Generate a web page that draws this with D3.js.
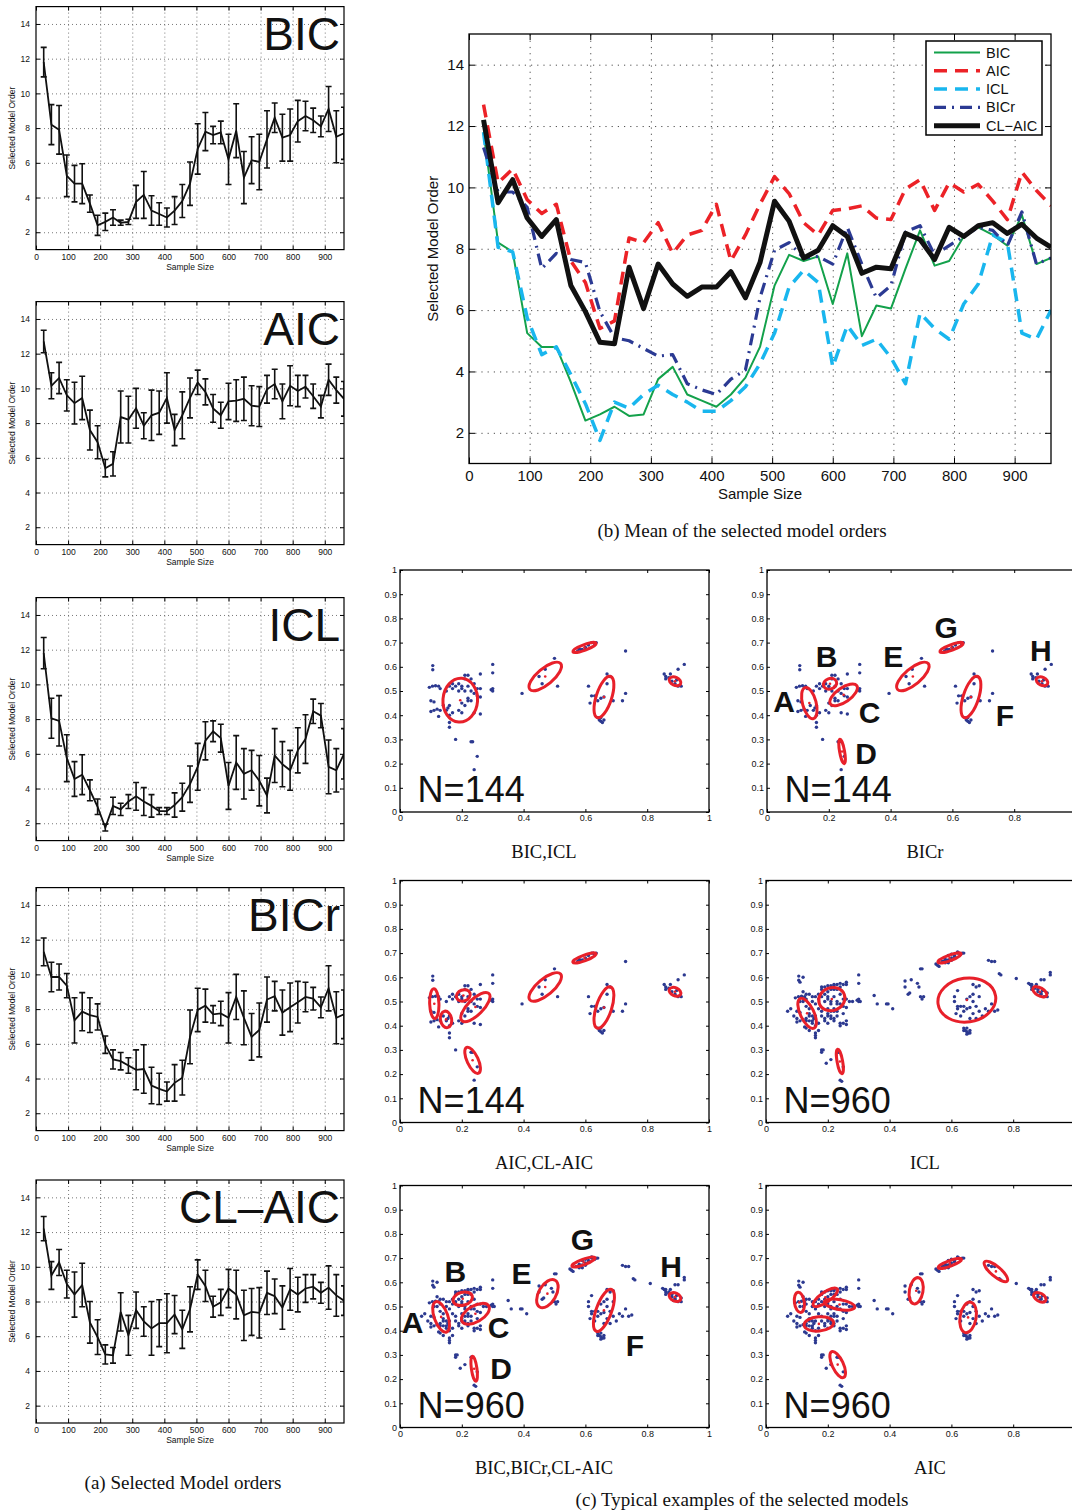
<!DOCTYPE html>
<html>
<head>
<meta charset="utf-8">
<script src="https://cdn.jsdelivr.net/npm/d3@7"></script>
<style>
  body { margin: 0; background: #fff; overflow: hidden; }
  svg text { font-family: "Liberation Sans", Arial, Helvetica, sans-serif; fill: #111; }
  .cap { font-family: "Liberation Serif", "Times New Roman", serif; }
  .grid line { stroke: #555; stroke-dasharray: 1,3; stroke-width: 0.8; }
  .grid path { display: none; }
  .ax path { display: none; }
  .ax line { stroke: #000; }
</style>
</head>
<body>
<svg id="fig" width="1072" height="1512"></svg>
<script>
// ---- data ----
var sampleSizes = [24,48,72,96,120,144,168,192,216,240,264,288,312,336,360,384,408,432,456,480,
                   504,528,552,576,600,624,648,672,696,720,744,768,792,816,840,864,888,912,936,960];

var bicMean = [11.8,8.2,7.9,5.25,4.8,4.8,3.65,2.4,2.6,2.85,2.55,2.6,3.75,4.15,3.25,3.05,2.85,3.25,3.8,4.8,
               6.8,7.8,7.6,7.75,6.2,7.85,5.15,6.15,6.05,7.35,8.6,7.45,7.6,8.4,8.7,8.45,8.1,9.1,7.5,7.7];
var bicErr  = [0.85,1.15,1.4,1.2,1.05,1.15,0.5,0.58,0.5,0.45,0.15,0.15,0.95,1.35,0.85,0.65,0.55,0.8,0.95,1.25,
               1.45,1.1,0.5,0.65,1.45,1.55,1.5,1.35,1.6,1.65,0.85,1.35,1.5,1.2,0.85,0.7,0.6,1.3,1.5,1.5];

var aicMean = [12.7,10.15,10.6,9.6,9.15,9.45,7.6,6.9,5.4,5.65,8.35,8.2,8.85,7.85,8.45,8.6,9.45,7.6,8.45,9.45,
               10.35,9.8,8.85,8.45,9.25,9.3,9.4,9.0,8.95,9.95,10.25,9.25,10.15,9.85,10.1,9.55,8.95,10.5,9.9,9.4];
var aicErr  = [0.65,0.75,0.9,0.9,1.2,1.25,1.15,0.95,0.5,0.7,1.5,1.35,1.15,0.75,1.45,1.25,1.45,0.9,1.35,1.15,
               0.7,0.75,0.8,0.75,1.05,1.2,1.25,1.15,1.15,0.8,0.85,1.0,1.15,0.9,0.65,0.7,0.65,0.9,0.75,1.0];

var iclMean = [11.8,8.05,7.9,5.75,4.55,4.8,3.9,2.95,1.75,3.0,2.8,3.25,3.55,3.25,3.0,2.7,2.7,3.05,3.5,4.25,
               5.25,6.75,7.3,6.9,4.15,5.5,4.85,5.05,4.45,3.6,5.9,5.4,5.05,6.2,6.85,8.45,8.2,5.25,5.05,6.0];
var iclErr  = [0.9,1.15,1.45,1.35,1.0,1.15,0.6,0.45,0.2,0.5,0.35,0.4,0.8,0.8,0.65,0.2,0.2,0.7,0.8,1.05,
               1.35,1.1,0.6,0.8,1.35,1.55,1.45,1.15,1.45,1.0,1.55,1.3,1.15,1.3,1.4,0.7,0.7,1.55,1.25,1.45];

var bicrMean = [11.3,9.85,9.85,9.35,7.35,7.85,7.65,7.55,5.95,5.1,5.0,4.75,4.5,4.55,3.6,3.4,3.25,3.75,4.05,6.4,
                7.95,8.2,7.7,7.75,7.5,8.7,7.5,6.4,6.8,8.55,8.75,7.8,8.1,8.4,8.7,8.6,8.1,9.2,7.5,7.7];
var bicrErr  = [0.8,0.85,0.75,0.7,1.3,1.1,1.0,0.75,0.5,0.55,0.5,0.45,1.15,1.4,1.05,0.9,0.55,1.05,1.0,1.55,
                1.25,0.95,0.5,0.7,1.45,1.3,1.55,1.35,1.55,1.3,0.85,1.3,1.4,1.2,0.85,0.65,0.6,1.3,1.5,1.4];

var claicMean = [12.2,9.5,10.25,9.0,8.4,8.95,6.8,5.95,4.95,4.9,7.4,6.05,7.5,6.85,6.45,6.75,6.75,7.25,6.4,7.55,
                 9.55,8.9,7.7,7.95,8.75,8.4,7.2,7.4,7.35,8.5,8.3,7.65,8.7,8.4,8.75,8.85,8.5,8.8,8.35,8.05];
var claicErr  = [0.7,0.8,0.75,0.8,1.3,1.25,1.2,1.0,0.55,0.45,1.1,1.15,1.05,0.85,1.55,1.35,1.7,1.1,1.1,1.3,
                 0.85,0.9,0.6,0.75,1.1,1.4,1.45,1.35,1.45,1.25,1.0,1.25,1.2,1.0,0.8,0.7,0.6,1.25,1.2,0.85];

var sizeTicks = [0,100,200,300,400,500,600,700,800,900];
var orderTicks = [2,4,6,8,10,12,14];
var probTicksX = [0,0.2,0.4,0.6,0.8,1];
var probTicksY = [0,0.1,0.2,0.3,0.4,0.5,0.6,0.7,0.8,0.9,1];

// samples used with N=144
var pointsN144 = [
  [0.106,0.605],[0.106,0.588],[0.095,0.515],[0.105,0.52],[0.115,0.522],[0.125,0.52],[0.13,0.51],[0.1,0.46],
  [0.11,0.455],[0.1,0.415],[0.11,0.42],[0.12,0.425],[0.125,0.395],[0.13,0.42],[0.14,0.44],[0.15,0.42],
  [0.16,0.44],[0.155,0.43],[0.16,0.4],[0.17,0.41],[0.16,0.37],[0.16,0.35],[0.18,0.3],[0.15,0.5],
  [0.16,0.52],[0.17,0.51],[0.18,0.52],[0.19,0.53],[0.2,0.51],[0.21,0.55],[0.21,0.565],[0.22,0.565],
  [0.2,0.52],[0.21,0.5],[0.22,0.52],[0.23,0.5],[0.23,0.55],[0.24,0.53],[0.25,0.51],[0.26,0.51],
  [0.24,0.49],[0.22,0.47],[0.2,0.45],[0.21,0.44],[0.22,0.46],[0.23,0.46],[0.25,0.48],[0.26,0.475],
  [0.19,0.42],[0.2,0.41],[0.24,0.41],[0.26,0.405],[0.26,0.57],[0.235,0.29],[0.23,0.29],[0.25,0.23],
  [0.24,0.175],[0.3,0.61],[0.3,0.575],[0.3,0.51],[0.3,0.5],[0.295,0.505],[0.17,0.53],[0.19,0.5],
  [0.395,0.49],[0.5,0.635],[0.51,0.52],[0.46,0.53],[0.47,0.59],[0.45,0.56],
  [0.575,0.665],[0.58,0.675],[0.59,0.672],[0.6,0.68],[0.61,0.69],[0.62,0.7],[0.625,0.7],[0.63,0.695],
  [0.635,0.7],[0.585,0.67],[0.73,0.665],
  [0.61,0.52],[0.62,0.48],[0.615,0.45],[0.63,0.48],[0.64,0.46],[0.65,0.47],[0.66,0.475],[0.67,0.57],
  [0.68,0.56],[0.67,0.53],[0.69,0.46],[0.72,0.46],[0.73,0.49],[0.64,0.39],[0.645,0.38],[0.65,0.375],
  [0.655,0.37],[0.66,0.38],[0.65,0.39],
  [0.855,0.57],[0.86,0.56],[0.87,0.555],[0.88,0.54],[0.875,0.57],[0.89,0.53],[0.9,0.52],[0.91,0.52],
  [0.9,0.59],[0.92,0.61],[0.86,0.55],[0.895,0.545]
];
// additional samples present with N=960
var extraN960 = [
  [0.07,0.46],[0.08,0.47],[0.09,0.44],[0.1,0.43],[0.11,0.5],[0.12,0.54],[0.13,0.53],[0.12,0.5],
  [0.13,0.48],[0.14,0.47],[0.14,0.45],[0.13,0.43],[0.14,0.42],[0.15,0.44],[0.15,0.41],[0.13,0.39],
  [0.14,0.38],[0.17,0.38],[0.16,0.36],[0.18,0.55],[0.18,0.56],[0.19,0.56],[0.2,0.565],[0.22,0.57],
  [0.23,0.57],[0.24,0.575],[0.25,0.57],[0.26,0.58],[0.22,0.55],[0.24,0.56],[0.2,0.54],[0.21,0.49],
  [0.23,0.49],[0.2,0.47],[0.21,0.46],[0.2,0.44],[0.21,0.43],[0.22,0.43],[0.23,0.44],[0.22,0.42],
  [0.19,0.43],[0.18,0.44],[0.18,0.46],[0.17,0.47],[0.16,0.49],[0.15,0.52],[0.14,0.53],[0.25,0.45],
  [0.25,0.41],[0.24,0.4],[0.26,0.42],[0.27,0.5],[0.28,0.5],[0.305,0.5],[0.18,0.29],[0.185,0.3],
  [0.21,0.26],[0.195,0.245],[0.245,0.17],[0.12,0.6],[0.11,0.58],
  [0.35,0.525],[0.36,0.49],[0.39,0.49],[0.41,0.47],[0.45,0.585],[0.465,0.535],[0.49,0.575],[0.495,0.56],
  [0.505,0.635],[0.5,0.52],[0.505,0.51],[0.55,0.655],[0.56,0.645],[0.555,0.65],
  [0.57,0.665],[0.58,0.66],[0.6,0.67],[0.61,0.685],[0.59,0.69],[0.6,0.695],[0.62,0.705],[0.64,0.7],
  [0.59,0.66],[0.72,0.67],[0.74,0.665],[0.755,0.615],[0.76,0.61],[0.81,0.595],
  [0.62,0.545],[0.61,0.5],[0.62,0.47],[0.63,0.44],[0.64,0.48],[0.65,0.51],[0.66,0.52],[0.67,0.5],
  [0.68,0.48],[0.67,0.45],[0.66,0.43],[0.68,0.43],[0.7,0.44],[0.71,0.47],[0.74,0.46],[0.75,0.465],
  [0.69,0.52],[0.69,0.565],[0.64,0.38],[0.65,0.365],[0.66,0.37],
  [0.85,0.575],[0.86,0.57],[0.87,0.56],[0.88,0.55],[0.89,0.535],[0.91,0.535],[0.885,0.525],[0.92,0.62],
  [0.89,0.59]
];
var pointsN960 = pointsN144.concat(extraN960);

// ellipses: [cx, cy, semi-axis a, semi-axis b, rotation deg]
var ellBicIcl = [[0.195,0.462,0.056,0.071,4],[0.47,0.56,0.065,0.026,-40],[0.597,0.68,0.04,0.009,-20],
                 [0.66,0.475,0.07,0.025,-72],[0.89,0.54,0.02,0.013,25]];
var ellBicr = [[0.137,0.45,0.052,0.022,75],[0.204,0.53,0.022,0.017,-20],[0.248,0.484,0.052,0.023,-35],
               [0.243,0.25,0.04,0.008,80],[0.472,0.56,0.065,0.026,-40],[0.66,0.475,0.07,0.025,-72],
               [0.597,0.68,0.04,0.009,-20],[0.89,0.54,0.02,0.013,25]];
var ellAicClaic = [[0.111,0.491,0.048,0.015,88],[0.149,0.426,0.027,0.018,80],[0.205,0.525,0.023,0.018,-20],
                   [0.244,0.477,0.062,0.025,-45],[0.235,0.257,0.046,0.018,65],[0.47,0.56,0.065,0.026,-40],
                   [0.597,0.68,0.04,0.009,-20],[0.66,0.475,0.07,0.025,-72],[0.89,0.54,0.02,0.013,25]];
var ellIcl = [[0.133,0.451,0.053,0.022,65],[0.213,0.51,0.043,0.037,-20],[0.239,0.252,0.04,0.009,80],
              [0.594,0.68,0.04,0.009,-20],[0.65,0.506,0.094,0.071,-8],[0.886,0.54,0.025,0.013,30]];
var ellBicBicrClaic = [[0.133,0.457,0.052,0.022,70],[0.203,0.532,0.032,0.021,-15],[0.244,0.47,0.05,0.026,-30],
                       [0.24,0.243,0.041,0.009,82],[0.477,0.553,0.05,0.028,-60],[0.594,0.684,0.04,0.009,-20],
                       [0.66,0.484,0.072,0.025,-70],[0.89,0.539,0.02,0.013,25]];
var ellAic = [[0.108,0.517,0.033,0.016,82],[0.171,0.428,0.048,0.023,-5],[0.192,0.538,0.047,0.016,-35],
              [0.238,0.508,0.05,0.016,10],[0.232,0.26,0.046,0.018,65],[0.486,0.565,0.043,0.022,-80],
              [0.595,0.678,0.04,0.009,-20],[0.654,0.455,0.05,0.026,-80],[0.744,0.645,0.048,0.016,40],
              [0.886,0.538,0.022,0.013,30]];

var lettersBicr = [["A",0.055,0.413],["B",0.193,0.601],["C",0.332,0.367],["D",0.321,0.2],
                   ["E",0.409,0.601],["F",0.77,0.354],["G",0.58,0.718],["H",0.886,0.622]];
var lettersBicBicrClaic = [["A",0.041,0.39],["B",0.179,0.601],["C",0.319,0.371],["D",0.327,0.2],
                           ["E",0.393,0.594],["F",0.76,0.294],["G",0.59,0.732],["H",0.877,0.622]];

var svg = d3.select("#fig");

function styleTicks(sel, size) {
  sel.selectAll("text")
    .style("font-family", "Liberation Sans, Arial, sans-serif")
    .style("font-size", size + "px")
    .attr("fill", "#222");
}

// ---- (a) small panels with error bars ----
function smallPanel(top, mean, err, label) {
  var h = 243, left = 36, right = 344;
  var x = d3.scaleLinear().domain([0, 960]).range([left, right]),
      y = d3.scaleLinear().domain([1, 15]).range([top + h, top]);
  var g = svg.append("g");
  var cid = "clipS" + Math.round(top);
  g.append("clipPath").attr("id", cid).append("rect")
    .attr("x", left).attr("y", top).attr("width", right - left).attr("height", h);

  g.append("g").attr("class", "grid").attr("transform", "translate(0," + (top + h) + ")")
    .call(d3.axisBottom(x).tickValues(sizeTicks.slice(1)).tickSize(-h).tickFormat(""));
  g.append("g").attr("class", "grid").attr("transform", "translate(" + left + ",0)")
    .call(d3.axisLeft(y).tickValues(orderTicks).tickSize(-(right - left)).tickFormat(""));

  var ax = g.append("g").attr("class", "ax");
  ax.append("g").attr("transform", "translate(0," + (top + h) + ")")
    .call(d3.axisBottom(x).tickValues(sizeTicks).tickSize(-4).tickPadding(4));
  ax.append("g").attr("transform", "translate(" + left + ",0)")
    .call(d3.axisLeft(y).tickValues(orderTicks).tickSize(-4).tickPadding(6));
  ax.append("g").attr("transform", "translate(0," + top + ")")
    .call(d3.axisTop(x).tickValues(sizeTicks).tickSize(-4).tickFormat(""));
  ax.append("g").attr("transform", "translate(" + right + ",0)")
    .call(d3.axisRight(y).tickValues(orderTicks).tickSize(-4).tickFormat(""));
  styleTicks(ax, 8.5);

  var plot = g.append("g").attr("clip-path", "url(#" + cid + ")");
  plot.append("path")
    .attr("d", d3.line().x(function(d, i) { return x(sampleSizes[i]); }).y(function(d) { return y(d); })(mean))
    .attr("fill", "none").attr("stroke", "#111").attr("stroke-width", 1.8);
  plot.selectAll(".eb").data(mean).enter().append("path")
    .attr("d", function(d, i) {
      var px = x(sampleSizes[i]), y1 = y(d + err[i]), y0 = y(d - err[i]);
      return "M" + (px - 3) + "," + y1 + "h6M" + px + "," + y1 + "V" + y0 + "M" + (px - 3) + "," + y0 + "h6";
    })
    .attr("fill", "none").attr("stroke", "#111").attr("stroke-width", 1.6);

  g.append("rect").attr("x", left).attr("y", top).attr("width", right - left).attr("height", h)
    .attr("fill", "none").attr("stroke", "#000").attr("stroke-width", 1.2);

  g.append("text").attr("x", right - 4).attr("y", top + 43).attr("text-anchor", "end")
    .style("font-size", "46px").text(label);
  g.append("text").attr("transform", "translate(15," + (top + h / 2) + ") rotate(-90)")
    .attr("text-anchor", "middle").style("font-size", "8.5px").attr("fill", "#333").text("Selected Model Order");
  g.append("text").attr("x", (left + right) / 2).attr("y", top + h + 20).attr("text-anchor", "middle")
    .style("font-size", "8.5px").attr("fill", "#333").text("Sample Size");
}

smallPanel(6.6, bicMean, bicErr, "BIC");
smallPanel(301.6, aicMean, aicErr, "AIC");
smallPanel(597.6, iclMean, iclErr, "ICL");
smallPanel(887.6, bicrMean, bicrErr, "BICr");
smallPanel(1180, claicMean, claicErr, "CL\u2013AIC");

svg.append("text").attr("class", "cap").attr("x", 183).attr("y", 1489).attr("text-anchor", "middle")
  .style("font-size", "19px").text("(a) Selected Model orders");

// ---- (b) means of all criteria ----
(function() {
  var left = 469, right = 1051, top = 34, bottom = 463.5;
  var x = d3.scaleLinear().domain([0, 960]).range([left, right]),
      y = d3.scaleLinear().domain([1, 15]).range([bottom, top]);
  var g = svg.append("g");
  g.append("clipPath").attr("id", "clipB").append("rect")
    .attr("x", left).attr("y", top).attr("width", right - left).attr("height", bottom - top);

  g.append("g").attr("class", "grid").attr("transform", "translate(0," + bottom + ")")
    .call(d3.axisBottom(x).tickValues(sizeTicks.slice(1)).tickSize(-(bottom - top)).tickFormat(""));
  g.append("g").attr("class", "grid").attr("transform", "translate(" + left + ",0)")
    .call(d3.axisLeft(y).tickValues(orderTicks).tickSize(-(right - left)).tickFormat(""));
  g.selectAll(".grid line").style("stroke", "#222").style("stroke-dasharray", "1.2,5");

  var ax = g.append("g").attr("class", "ax");
  ax.append("g").attr("transform", "translate(0," + bottom + ")")
    .call(d3.axisBottom(x).tickValues(sizeTicks).tickSize(-6).tickPadding(7));
  ax.append("g").attr("transform", "translate(" + left + ",0)")
    .call(d3.axisLeft(y).tickValues(orderTicks).tickSize(-6).tickPadding(5));
  ax.append("g").attr("transform", "translate(0," + top + ")")
    .call(d3.axisTop(x).tickValues(sizeTicks).tickSize(-6).tickFormat(""));
  ax.append("g").attr("transform", "translate(" + right + ",0)")
    .call(d3.axisRight(y).tickValues(orderTicks).tickSize(-6).tickFormat(""));
  styleTicks(ax, 15);

  var series = [
    { name: "BIC", values: bicMean, color: "#13a14b", width: 2, dash: null },
    { name: "AIC", values: aicMean, color: "#ec2227", width: 3.5, dash: "13,8" },
    { name: "ICL", values: iclMean, color: "#19b6ee", width: 3.5, dash: "13,8" },
    { name: "BICr", values: bicrMean, color: "#2b3a93", width: 3.2, dash: "12,6,2,6" },
    { name: "CL\u2212AIC", values: claicMean, color: "#111", width: 5, dash: null }
  ];
  var line = d3.line().x(function(d, i) { return x(sampleSizes[i]); }).y(function(d) { return y(d); });
  var plot = g.append("g").attr("clip-path", "url(#clipB)");
  series.forEach(function(s) {
    plot.append("path").attr("d", line(s.values)).attr("fill", "none")
      .attr("stroke", s.color).attr("stroke-width", s.width)
      .attr("stroke-dasharray", s.dash).attr("stroke-linejoin", "round");
  });

  g.append("rect").attr("x", left).attr("y", top).attr("width", right - left).attr("height", bottom - top)
    .attr("fill", "none").attr("stroke", "#000").attr("stroke-width", 1.3);

  // legend
  var lg = g.append("g");
  lg.append("rect").attr("x", 926).attr("y", 41).attr("width", 116).attr("height", 94)
    .attr("fill", "#fff").attr("stroke", "#000").attr("stroke-width", 1.5);
  series.forEach(function(s, i) {
    var ly = 52.5 + i * 18.3;
    lg.append("line").attr("x1", 934).attr("x2", 980).attr("y1", ly).attr("y2", ly)
      .attr("stroke", s.color).attr("stroke-width", s.width).attr("stroke-dasharray", s.dash);
    lg.append("text").attr("x", 986).attr("y", ly).attr("dy", "0.35em")
      .style("font-size", "14.5px").text(s.name);
  });

  g.append("text").attr("transform", "translate(438," + ((top + bottom) / 2) + ") rotate(-90)")
    .attr("text-anchor", "middle").style("font-size", "15px").attr("fill", "#222").text("Selected Model Order");
  g.append("text").attr("x", 760).attr("y", 499).attr("text-anchor", "middle")
    .style("font-size", "15px").attr("fill", "#222").text("Sample Size");
  svg.append("text").attr("class", "cap").attr("x", 742).attr("y", 537).attr("text-anchor", "middle")
    .style("font-size", "19px").text("(b) Mean of the selected model orders");
})();

// ---- (c) scatter panels ----
function scatterPanel(x0, yb, pts, ells, letters, nLabel, caption, capX, xLabels) {
  var w = 309, h = 242;
  var x = d3.scaleLinear().domain([0, 1]).range([x0, x0 + w]),
      y = d3.scaleLinear().domain([0, 1]).range([yb, yb - h]);
  var k = x(1) - x(0);
  var g = svg.append("g");
  var fmt = function(d) { return String(+d.toFixed(1)); };

  var ax = g.append("g").attr("class", "ax");
  ax.append("g").attr("transform", "translate(0," + yb + ")")
    .call(d3.axisBottom(x).tickValues(xLabels).tickSize(-3).tickPadding(3).tickFormat(fmt));
  ax.append("g").attr("transform", "translate(" + x0 + ",0)")
    .call(d3.axisLeft(y).tickValues(probTicksY).tickSize(-3).tickPadding(3).tickFormat(fmt));
  ax.append("g").attr("transform", "translate(0," + (yb - h) + ")")
    .call(d3.axisTop(x).tickValues(probTicksX).tickSize(-3).tickFormat(""));
  ax.append("g").attr("transform", "translate(" + (x0 + w) + ",0)")
    .call(d3.axisRight(y).tickValues(probTicksY).tickSize(-3).tickFormat(""));
  styleTicks(ax, 9);

  g.append("rect").attr("x", x0).attr("y", yb - h).attr("width", w).attr("height", h)
    .attr("fill", "none").attr("stroke", "#000").attr("stroke-width", 1.3);

  g.selectAll(".pt").data(pts).enter().append("circle")
    .attr("cx", function(d) { return x(d[0]); }).attr("cy", function(d) { return y(d[1]); })
    .attr("r", 1.7).attr("fill", "#2c3990");

  g.selectAll(".el").data(ells).enter().append("ellipse")
    .attr("transform", function(d) { return "translate(" + x(d[0]) + "," + y(d[1]) + ") rotate(" + d[4] + ")"; })
    .attr("rx", function(d) { return d[2] * k; }).attr("ry", function(d) { return d[3] * k; })
    .attr("fill", "none").attr("stroke", "#e8202a").attr("stroke-width", 3);
  g.selectAll(".ctr").data(ells).enter().append("circle")
    .attr("cx", function(d) { return x(d[0]); }).attr("cy", function(d) { return y(d[1]); })
    .attr("r", 1.3).attr("fill", "#e8202a");

  g.selectAll(".lt").data(letters).enter().append("text")
    .attr("x", function(d) { return x(d[1]); }).attr("y", function(d) { return y(d[2]); })
    .attr("text-anchor", "middle").style("font-size", "30px").style("font-weight", "bold")
    .attr("fill", "#111").text(function(d) { return d[0]; });

  g.append("text").attr("x", x(0.057)).attr("y", y(0.041)).style("font-size", "36px")
    .attr("fill", "#1a1a1a").text(nLabel);

  svg.append("text").attr("class", "cap").attr("x", capX).attr("y", yb + 46).attr("text-anchor", "middle")
    .style("font-size", "18.5px").text(caption);
}

var probTicksXCut = probTicksX.slice(0, 5); // right column is cut by the page edge
scatterPanel(400, 812, pointsN144, ellBicIcl, [], "N=144", "BIC,ICL", 544, probTicksX);
scatterPanel(767, 812, pointsN144, ellBicr, lettersBicr, "N=144", "BICr", 925, probTicksXCut);
scatterPanel(400, 1122.5, pointsN144, ellAicClaic, [], "N=144", "AIC,CL-AIC", 544, probTicksX);
scatterPanel(766, 1122.5, pointsN960, ellIcl, [], "N=960", "ICL", 925, probTicksXCut);
scatterPanel(400, 1427.5, pointsN960, ellBicBicrClaic, lettersBicBicrClaic, "N=960", "BIC,BICr,CL-AIC", 544, probTicksX);
scatterPanel(766, 1427.5, pointsN960, ellAic, [], "N=960", "AIC", 930, probTicksXCut);

svg.append("text").attr("class", "cap").attr("x", 742).attr("y", 1506).attr("text-anchor", "middle")
  .style("font-size", "19px").text("(c) Typical examples of the selected models");
</script>
</body>
</html>
